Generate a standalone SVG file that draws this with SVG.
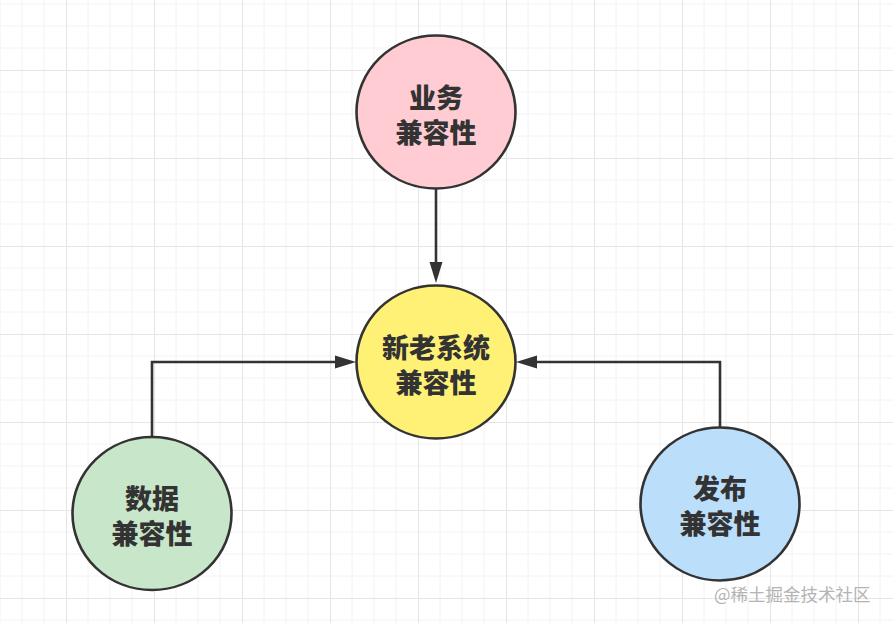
<svg xmlns="http://www.w3.org/2000/svg" width="893" height="623" viewBox="0 0 893 623">
  <defs>
    <pattern id="grid" patternUnits="userSpaceOnUse" x="66" y="70" width="88" height="88">
      <path d="M22,0V88M44,0V88M66,0V88M0,22H88M0,44H88M0,66H88" stroke="#f2f2f2" stroke-width="1" fill="none"/>
      <path d="M0.5,0V88M0,0.5H88" stroke="#e6e6e6" stroke-width="1.2" fill="none"/>
    </pattern>
    <marker id="arrow" markerUnits="userSpaceOnUse" markerWidth="22" markerHeight="14" refX="0" refY="7" orient="auto" overflow="visible">
      <path d="M0,0.5 L21,7 L0,13.5 Z" fill="#333333"/>
    </marker>
    <style>
      .node { stroke: #333333; stroke-width: 2.6; }
      .label { font-family: "Noto Sans CJK SC", "Noto Sans", sans-serif; font-weight: 900; font-size: 27px; fill: #333333; text-anchor: middle; }
      .conn { stroke: #333333; stroke-width: 2.6; fill: none; }
      .wm { font-family: "Noto Sans CJK SC", "Noto Sans", sans-serif; font-size: 17.5px; fill: #b4b4b4; }
    </style>
  </defs>
  <rect width="893" height="623" fill="#ffffff"/>
  <rect width="893" height="623" fill="url(#grid)"/>

  <g id="connectors">
    <path class="conn" d="M436,189 V262" marker-end="url(#arrow)"/>
    <path class="conn" d="M152,437 V362 H335" marker-end="url(#arrow)"/>
    <path class="conn" d="M720,427 V362 H537" marker-end="url(#arrow)"/>
  </g>

  <g id="node-business">
    <ellipse class="node" cx="436" cy="112" rx="79.5" ry="76.5" fill="#ffccd3"/>
    <text class="label"><tspan x="436" y="108">业务</tspan><tspan x="436" y="142.5">兼容性</tspan></text>
  </g>

  <g id="node-system">
    <ellipse class="node" cx="436" cy="362" rx="79.5" ry="76.5" fill="#fff176"/>
    <text class="label"><tspan x="436" y="358">新老系统</tspan><tspan x="436" y="392.5">兼容性</tspan></text>
  </g>

  <g id="node-data">
    <ellipse class="node" cx="152" cy="513.5" rx="79.5" ry="76.5" fill="#c8e6c9"/>
    <text class="label"><tspan x="152" y="509">数据</tspan><tspan x="152" y="543.5">兼容性</tspan></text>
  </g>

  <g id="node-release">
    <ellipse class="node" cx="720" cy="504" rx="79.5" ry="76.5" fill="#bbdefb"/>
    <text class="label"><tspan x="720" y="499">发布</tspan><tspan x="720" y="533.5">兼容性</tspan></text>
  </g>

  <text class="wm" x="714" y="601">@稀土掘金技术社区</text>
</svg>
